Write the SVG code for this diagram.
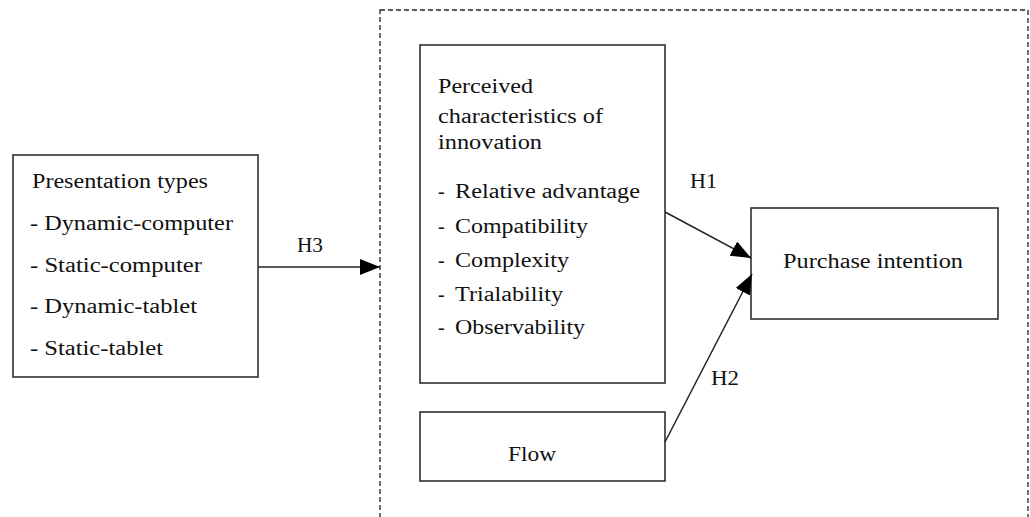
<svg xmlns="http://www.w3.org/2000/svg" width="1030" height="517" viewBox="0 0 1030 517">
<style>
.box{fill:#fff;stroke:#222;stroke-width:1.5}
.dash{fill:none;stroke:#222;stroke-width:1.3;stroke-dasharray:5,3}
.t{font-family:"Liberation Serif","Times New Roman",serif;font-size:20px;fill:#111}
.c{stroke:#222;stroke-width:1.5;fill:none}
</style>
<defs>
<marker id="ah" markerWidth="20" markerHeight="16" refX="20" refY="8" orient="auto" markerUnits="userSpaceOnUse">
<path d="M0,0 L20,8 L0,16 Z" fill="#000"/>
</marker>
</defs>
<rect width="1030" height="517" fill="#fff"/>
<g id="container">
<rect class="dash" x="380" y="10" width="648" height="530"/>
</g>
<g id="presentation-types">
<rect class="box" x="13" y="155" width="245" height="222"/>
<text class="t" x="32" y="188" textLength="176" lengthAdjust="spacingAndGlyphs">Presentation types</text>
<text class="t" x="30" y="230" textLength="203" lengthAdjust="spacingAndGlyphs">- Dynamic-computer</text>
<text class="t" x="30" y="272" textLength="172" lengthAdjust="spacingAndGlyphs">- Static-computer</text>
<text class="t" x="30" y="313" textLength="167" lengthAdjust="spacingAndGlyphs">- Dynamic-tablet</text>
<text class="t" x="30" y="355" textLength="133" lengthAdjust="spacingAndGlyphs">- Static-tablet</text>
</g>
<g id="perceived-characteristics">
<rect class="box" x="420" y="45" width="245" height="338"/>
<text class="t" x="438" y="93" textLength="95" lengthAdjust="spacingAndGlyphs">Perceived</text>
<text class="t" x="438" y="123" textLength="165" lengthAdjust="spacingAndGlyphs">characteristics of</text>
<text class="t" x="438" y="149" textLength="104" lengthAdjust="spacingAndGlyphs">innovation</text>
<text class="t" x="438" y="198">-</text>
<text class="t" x="455" y="198" textLength="185" lengthAdjust="spacingAndGlyphs">Relative advantage</text>
<text class="t" x="438" y="233">-</text>
<text class="t" x="455" y="233" textLength="133" lengthAdjust="spacingAndGlyphs">Compatibility</text>
<text class="t" x="438" y="267">-</text>
<text class="t" x="455" y="267" textLength="114" lengthAdjust="spacingAndGlyphs">Complexity</text>
<text class="t" x="438" y="301">-</text>
<text class="t" x="455" y="301" textLength="108" lengthAdjust="spacingAndGlyphs">Trialability</text>
<text class="t" x="438" y="334">-</text>
<text class="t" x="455" y="334" textLength="130" lengthAdjust="spacingAndGlyphs">Observability</text>
</g>
<g id="flow">
<rect class="box" x="420" y="412" width="245" height="69"/>
<text class="t" x="508" y="461" textLength="48" lengthAdjust="spacingAndGlyphs">Flow</text>
</g>
<g id="purchase-intention">
<rect class="box" x="751" y="208" width="247" height="111"/>
<text class="t" x="783" y="268" textLength="180" lengthAdjust="spacingAndGlyphs">Purchase intention</text>
</g>
<g id="connectors">
<line class="c" x1="258" y1="267" x2="380" y2="267" marker-end="url(#ah)"/>
<text class="t" x="297" y="252" textLength="26" lengthAdjust="spacingAndGlyphs">H3</text>
<line class="c" x1="665" y1="212" x2="751" y2="258" marker-end="url(#ah)"/>
<text class="t" x="690" y="188" textLength="27" lengthAdjust="spacingAndGlyphs">H1</text>
<line class="c" x1="665" y1="442" x2="752" y2="274" marker-end="url(#ah)"/>
<text class="t" x="711" y="385" textLength="28" lengthAdjust="spacingAndGlyphs">H2</text>
</g>
</svg>
